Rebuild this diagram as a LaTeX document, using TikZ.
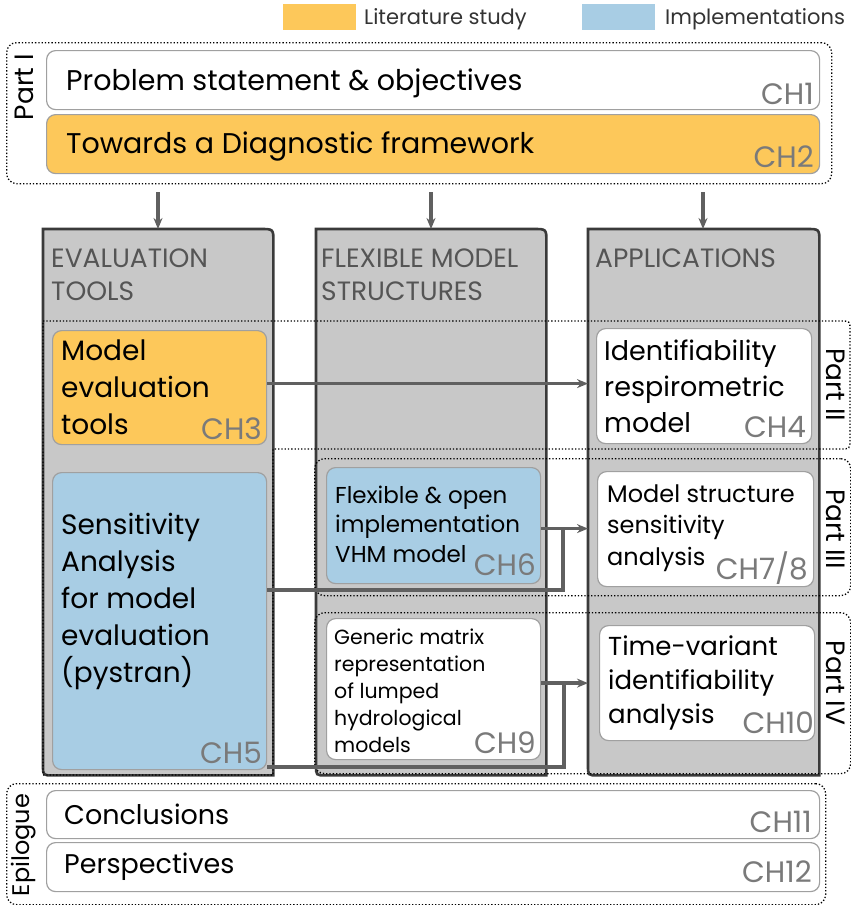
\documentclass[tikz,border=0pt]{standalone}
\usepackage{fontspec}
\setmainfont{Poppins}
\usetikzlibrary{arrows.meta,calc}
\definecolor{litorange}{HTML}{FDC85A}
\definecolor{implblue}{HTML}{A8CDE4}
\definecolor{colgray}{HTML}{C8C8C8}
\definecolor{chgray}{HTML}{7A7A7A}
\definecolor{headgray}{HTML}{555555}
\definecolor{framegray}{HTML}{3A3A3A}
\definecolor{arrowgray}{HTML}{606060}
\definecolor{boxline}{HTML}{A0A0A0}
\tikzset{
  chbox/.style={draw=boxline, line width=1.2pt, rounded corners=9pt, inner sep=0pt, anchor=north west},
  colnode/.style={inner sep=0pt, anchor=north west},
  colframe/.style={draw=framegray, fill=colgray, line width=2.6pt},
  partline/.style={draw=black, dotted, line width=1.3pt},
  partbox/.style={partline, rounded corners=10pt, inner sep=0pt, anchor=north west},
  ftxt/.style n args={2}{font=\fontsize{#1}{#2}\selectfont, anchor=base west, inner sep=0pt, align=left},
  headtxt/.style={font=\fontsize{26.5}{33}\selectfont, text=headgray, anchor=base west, inner sep=0pt, align=left},
  chlabel/.style={font=\fontsize{29.5}{30}\selectfont, text=chgray, anchor=base east, inner sep=0pt},
  parttxt/.style={font=\fontsize{26.5}{27}\selectfont, inner sep=0pt},
  legtxt/.style={font=\fontsize{21}{21}\selectfont, text=black!80, anchor=base west, inner sep=0pt},
  conn/.style={draw=arrowgray, line width=3.3pt},
  arr/.style={conn, -{Stealth[length=11pt, width=9pt]}},
}
\begin{document}
\begin{tikzpicture}[x=1pt,y=-1pt]
\useasboundingbox (0,0) rectangle (851,905);
% legend
\node[fill=litorange, minimum width=73pt, minimum height=26pt, inner sep=0pt, anchor=north west] (legL) at (283,4) {};
\node[legtxt] (legLt) at (364,24) {Literature study};
\node[fill=implblue, minimum width=73pt, minimum height=26pt, inner sep=0pt, anchor=north west] (legI) at (582,4) {};
\node[legtxt] (legIt) at (665,24) {Implementations};

% columns
\node[colnode, minimum width=230pt, minimum height=546pt] (eval) at (43,229) {};
\node[colnode, minimum width=230pt, minimum height=546pt] (flex) at (316,229) {};
\node[colnode, minimum width=231pt, minimum height=546pt] (appl) at (588,229) {};
\foreach \c in {eval,flex,appl}{
  \draw[colframe] (\c.north west) -- ($(\c.north east)+(-13,0)$) .. controls (\c.north east) .. ($(\c.north east)+(0,13)$)
     -- (\c.south east) -- ($(\c.south west)+(10,0)$) .. controls (\c.south west) .. ($(\c.south west)+(0,-10)$) -- cycle;
}
\node[headtxt] (evalh) at (51,300) {EVALUATION\\TOOLS};
\node[headtxt] (flexh) at (321,300) {FLEXIBLE MODEL\\STRUCTURES};
\node[headtxt] (applh) at (595,267) {APPLICATIONS};

% part boxes
\node[partbox, minimum width=825pt, minimum height=141pt] (p1) at (6,42) {};
\draw[partline] (43,321) -- (840,321) .. controls (850,321) .. (850,331) -- (850,439) .. controls (850,449) .. (840,449)
   -- (273,449) -- (273,775) -- (43,775) -- cycle;
\node[partbox, minimum width=536pt, minimum height=137pt] (p3) at (314,458) {};
\node[partbox, minimum width=536pt, minimum height=161pt] (p4) at (314,612) {};
\node[partbox, minimum width=819pt, minimum height=121pt] (pep) at (6,783) {};

\node[parttxt, rotate=90] (p1t) at (24,87) {Part I};
\node[parttxt, rotate=-90] (p2t) at (836,385) {Part II};
\node[parttxt, rotate=-90] (p3t) at (836,529) {Part III};
\node[parttxt, rotate=-90] (p4t) at (836,683) {Part IV};
\node[parttxt, rotate=90, font=\fontsize{24}{24}\selectfont] (pept) at (24,845) {Epilogue};

% chapter boxes
\node[chbox, fill=white, minimum width=773pt, minimum height=59pt] (ch1) at (46,50) {};
\node[ftxt={28.5}{30}] (ch1t) at (66,90) {Problem statement \& objectives};
\node[chlabel] (ch1l) at (814,104) {CH1};
\node[chbox, fill=litorange, minimum width=773pt, minimum height=59pt] (ch2) at (46,114) {};
\node[ftxt={28.5}{30}] (ch2t) at (66,153) {Towards a Diagnostic framework};
\node[chlabel] (ch2l) at (814,167) {CH2};

\node[chbox, fill=litorange, minimum width=214pt, minimum height=114pt] (ch3) at (52,330) {};
\node[ftxt={28}{37}] (ch3t) at (61,434) {Model\\evaluation\\tools};
\node[chlabel] (ch3l) at (262,439) {CH3};

\node[chbox, fill=white, minimum width=215pt, minimum height=115pt] (ch4) at (596,328) {};
\node[ftxt={27}{36}] (ch4t) at (604,432) {Identifiability\\respirometric\\model};
\node[chlabel] (ch4l) at (806,437) {CH4};

\node[chbox, fill=implblue, minimum width=214pt, minimum height=297pt] (ch5) at (52,472) {};
\node[ftxt={28}{37}] (ch5t) at (61,682) {Sensitivity\\Analysis\\for model\\evaluation\\(pystran)};
\node[chlabel] (ch5l) at (262,763) {CH5};

\node[chbox, fill=implblue, minimum width=214pt, minimum height=116pt] (ch6) at (326,467) {};
\node[ftxt={23}{29.5}] (ch6t) at (335,562) {Flexible \& open\\implementation\\VHM model};
\node[chlabel] (ch6l) at (536,575) {CH6};

\node[chbox, fill=white, minimum width=216pt, minimum height=115pt] (ch7) at (597,471) {};
\node[ftxt={24}{31.5}] (ch7t) at (607,565) {Model structure\\sensitivity\\analysis};
\node[chlabel] (ch7l) at (808,579) {CH7/8};

\node[chbox, fill=white, minimum width=214pt, minimum height=141pt] (ch9) at (326,618) {};
\node[ftxt={20.5}{26.8}] (ch9t) at (334,752) {Generic matrix\\representation\\of lumped\\hydrological\\models};
\node[chlabel] (ch9l) at (536,753) {CH9};

\node[chbox, fill=white, minimum width=215pt, minimum height=115pt] (ch10) at (599,625) {};
\node[ftxt={26}{34}] (ch10t) at (608,723) {Time-variant\\identifiability\\analysis};
\node[chlabel] (ch10l) at (814,733) {CH10};

\node[chbox, fill=white, minimum width=773pt, minimum height=48pt] (ch11) at (46,790) {};
\node[ftxt={27}{30}] (ch11t) at (64,824) {Conclusions};
\node[chlabel] (ch11l) at (812,832) {CH11};
\node[chbox, fill=white, minimum width=773pt, minimum height=49pt] (ch12) at (46,842) {};
\node[ftxt={27}{30}] (ch12t) at (64,873) {Perspectives};
\node[chlabel] (ch12l) at (812,882) {CH12};

% connectors
\coordinate (d1) at (158,192);
\coordinate (d2) at (431,192);
\coordinate (d3) at (703,192);
\draw[arr] (d1) -- (d1 |- eval.north);
\draw[arr] (d2) -- (d2 |- flex.north);
\draw[arr] (d3) -- (d3 |- appl.north);

\coordinate (a3) at ($(ch3.east)+(0,-4)$);
\draw[arr] (a3) -- (a3 -| appl.west);
\coordinate (a6) at ($(ch6.east)+(0,3)$);
\draw[arr] (a6) -- (a6 -| appl.west);
\coordinate (a9) at ($(ch9.east)+(0,-6)$);
\draw[arr] (a9) -- (a9 -| appl.west);

\coordinate (j1) at (563,590);
\coordinate (j2) at (564,767);
\draw[conn] (ch5.east |- j1) -- (j1) -- (j1 |- a6);
\draw[conn] (ch5.east |- j2) -- (j2) -- (j2 |- a9);
\end{tikzpicture}
\end{document}
